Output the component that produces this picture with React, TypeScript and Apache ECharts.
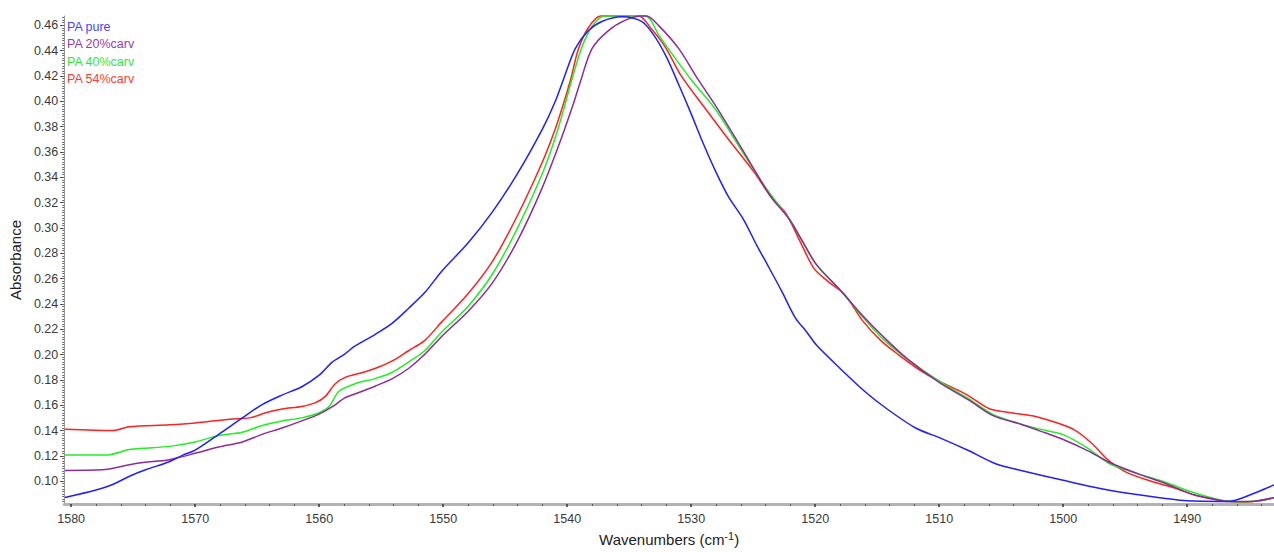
import React, { useEffect, useRef } from "react";
import * as echarts from "echarts";

const seriesNames = ["PA pure", "PA 20%carv", "PA 40%carv", "PA 54%carv"];
const lineColors = ["#1f1fff", "#8b2b9c", "#22ee22", "#ff2020"];
const textColors = ["#4545ff", "#9a3caf", "#33e633", "#ff3a3a"];

const xTickLabels = [1490, 1500, 1510, 1520, 1530, 1540, 1550, 1560, 1570, 1580];
const yTickLabels = [0.1, 0.12, 0.14, 0.16, 0.18, 0.2, 0.22, 0.24, 0.26, 0.28, 0.3, 0.32, 0.34, 0.36, 0.38, 0.4, 0.42, 0.44, 0.46];

const pureX = [1580.5, 1578, 1576.65, 1575.3, 1574, 1572.1, 1571, 1570, 1568.1, 1566.2, 1564.6, 1563, 1561.4, 1560, 1558.95, 1558, 1557.1, 1555.5, 1554.1, 1552.8, 1551.45, 1550.1, 1548, 1546, 1544, 1542, 1541, 1540.2, 1539.35, 1538.3, 1537.2, 1535.6, 1534, 1533, 1532, 1531, 1530, 1529, 1528, 1527, 1525.8, 1524.7, 1523.8, 1522.7, 1521.6, 1520.7, 1519.9, 1518.2, 1515.9, 1514.2, 1511.9, 1509.9, 1507.6, 1505.4, 1503.4, 1500, 1497.7, 1494.8, 1491.9, 1490, 1487.2, 1486.1, 1484.3, 1483];
const pureY = [0.0871, 0.093, 0.0974, 0.1039, 0.109, 0.1154, 0.1206, 0.1245, 0.137, 0.15, 0.1605, 0.168, 0.1746, 0.1837, 0.194, 0.2, 0.2068, 0.2158, 0.2248, 0.2364, 0.2493, 0.266, 0.288, 0.313, 0.343, 0.378, 0.399, 0.42, 0.4415, 0.4556, 0.463, 0.4667, 0.463, 0.452, 0.435, 0.413, 0.39, 0.366, 0.344, 0.3247, 0.307, 0.286, 0.27, 0.25, 0.229, 0.218, 0.2075, 0.191, 0.17, 0.157, 0.142, 0.134, 0.124, 0.1136, 0.1085, 0.1007, 0.0956, 0.0904, 0.0866, 0.0845, 0.084, 0.085, 0.0917, 0.097];

const c20X = [1580.5, 1577.5, 1575.3, 1574.2, 1572.1, 1570, 1568.1, 1566.2, 1564.6, 1563, 1561.4, 1560, 1558.9, 1557.9, 1556.8, 1555.5, 1554.1, 1552.8, 1551.5, 1550.1, 1548, 1546, 1544, 1542, 1540.5, 1539.5, 1538.95, 1538, 1536.7, 1535.3, 1534, 1533.6, 1532.6, 1531, 1529.5, 1528, 1526, 1523.6, 1522.1, 1521, 1519.9, 1517.9, 1516.2, 1514.5, 1512.5, 1510, 1507.6, 1505.7, 1503.4, 1501.4, 1500, 1498, 1496.3, 1494, 1491.7, 1489.7, 1487.8, 1486.6, 1484.9, 1483];
const c20Y = [0.1085, 0.109, 0.113, 0.1147, 0.117, 0.122, 0.127, 0.131, 0.137, 0.142, 0.1476, 0.153, 0.159, 0.166, 0.17, 0.175, 0.181, 0.189, 0.2, 0.2145, 0.234, 0.257, 0.29, 0.332, 0.37, 0.398, 0.415, 0.4415, 0.4556, 0.464, 0.4673, 0.4673, 0.4595, 0.4415, 0.418, 0.396, 0.364, 0.325, 0.307, 0.289, 0.271, 0.25, 0.231, 0.214, 0.196, 0.178, 0.164, 0.152, 0.145, 0.138, 0.1329, 0.124, 0.115, 0.106, 0.098, 0.09, 0.0858, 0.084, 0.084, 0.087];

const c40X = [1580.5, 1577.2, 1575.3, 1574.2, 1572.1, 1570, 1568.1, 1566.2, 1564.6, 1563, 1561.4, 1560, 1559.2, 1558.4, 1557.1, 1555.5, 1554.1, 1552.8, 1551.5, 1550.1, 1548, 1546, 1544, 1542, 1541, 1540.3, 1539.6, 1538.8, 1538, 1537, 1533.7, 1532.6, 1531.3, 1530, 1528, 1526, 1524, 1522.1, 1521, 1519.9, 1517.9, 1516.2, 1514.5, 1512.5, 1510, 1507.6, 1505.7, 1503.4, 1501.4, 1500, 1498, 1496.3, 1494, 1491.7, 1489.7, 1487.2, 1485.5, 1484, 1483];
const c40Y = [0.1206, 0.1206, 0.125, 0.126, 0.1275, 0.131, 0.136, 0.1386, 0.144, 0.1476, 0.15, 0.154, 0.159, 0.171, 0.177, 0.181, 0.186, 0.194, 0.203, 0.218, 0.238, 0.264, 0.3, 0.343, 0.37, 0.393, 0.418, 0.443, 0.459, 0.4673, 0.4673, 0.452, 0.434, 0.417, 0.393, 0.362, 0.332, 0.307, 0.289, 0.271, 0.25, 0.23, 0.212, 0.196, 0.179, 0.165, 0.153, 0.145, 0.14, 0.1368, 0.126, 0.114, 0.106, 0.099, 0.0917, 0.085, 0.0838, 0.0848, 0.087];

const c54X = [1580.5, 1576.6, 1575.3, 1572.1, 1570, 1567.2, 1565.6, 1564.3, 1563, 1561.4, 1560.3, 1559.5, 1558.7, 1557.9, 1556.8, 1555.5, 1554.1, 1552.8, 1551.5, 1550.1, 1548, 1546, 1544, 1542, 1541, 1540.3, 1539.7, 1539.1, 1538.3, 1537.3, 1534.25, 1533.2, 1532.1, 1530.8, 1529, 1527, 1525, 1523.6, 1522.4, 1521.3, 1520.1, 1519, 1517.6, 1516.2, 1514.7, 1513.3, 1511.6, 1510, 1507.9, 1507.1, 1505.9, 1504.2, 1502.5, 1500.8, 1499.1, 1497.7, 1496.3, 1494.9, 1492.9, 1490.9, 1489.2, 1487.2, 1485.5, 1484.1, 1483];
const c54Y = [0.141, 0.14, 0.143, 0.1445, 0.146, 0.149, 0.15, 0.154, 0.157, 0.159, 0.162, 0.167, 0.177, 0.182, 0.185, 0.189, 0.195, 0.203, 0.211, 0.226, 0.248, 0.274, 0.31, 0.352, 0.377, 0.398, 0.418, 0.441, 0.458, 0.4673, 0.4673, 0.457, 0.443, 0.42, 0.396, 0.37, 0.345, 0.325, 0.312, 0.291, 0.268, 0.258, 0.247, 0.227, 0.211, 0.2, 0.188, 0.179, 0.169, 0.164, 0.157, 0.154, 0.1517, 0.147, 0.1406, 0.13, 0.116, 0.107, 0.1, 0.0943, 0.0884, 0.0845, 0.0835, 0.0848, 0.087];

const seriesX = [pureX, c20X, c40X, c54X];
const seriesY = [pureY, c20Y, c40Y, c54Y];

const X_MIN = 1483;
const X_MAX = 1580.56;
const Y_MIN = 0.082;
const Y_MAX = 0.4673;

export default function App() {
  const ref = useRef<HTMLDivElement>(null);
  useEffect(() => {
    if (!ref.current) return;
    const chart = echarts.init(ref.current, undefined, { renderer: "svg" });
    const xMinor: number[] = [];
    for (let v = 1484; v <= 1580; v += 2) if (v % 10 !== 0) xMinor.push(v);
    const yMinor: number[] = [];
    for (let i = 42; i <= 233; i++) yMinor.push(+(i * 0.002).toFixed(3));
    const font = "Liberation Sans, Arial, sans-serif";
    chart.setOption({
      animation: false,
      grid: { left: 62, right: 0, top: 16, bottom: 37, containLabel: false },
      xAxis: [
        {
          type: "value",
          inverse: true,
          min: X_MIN,
          max: X_MAX,
          splitLine: { show: false },
          axisLine: { show: true, onZero: false, lineStyle: { color: "#b4b4b4", width: 3 } },
          axisTick: { show: true, customValues: xTickLabels, length: 3, lineStyle: { color: "#333", width: 1.5 } },
          axisLabel: {
            customValues: xTickLabels,
            formatter: (v: number) => String(Math.round(v)),
            color: "#3a3a3a",
            fontSize: 12.5,
            fontFamily: font,
            margin: 8,
          },
          name: "{a|Wavenumbers (cm}{s|-1}{a|)}",
          nameLocation: "middle",
          nameGap: 26,
          nameTextStyle: {
            rich: {
              a: { fontSize: 15, color: "#222", fontFamily: font },
              s: { fontSize: 11, color: "#222", fontFamily: font, verticalAlign: "top", padding: [0, 0, 8, 0] },
            },
          },
        },
        {
          type: "value",
          inverse: true,
          min: X_MIN,
          max: X_MAX,
          position: "bottom",
          splitLine: { show: false },
          axisLine: { show: false, onZero: false },
          axisTick: { show: true, customValues: xMinor, length: 2, lineStyle: { color: "#555" } },
          axisLabel: { show: false },
        },
      ],
      yAxis: [
        {
          type: "value",
          min: Y_MIN,
          max: Y_MAX,
          splitLine: { show: false },
          axisLine: { show: true, onZero: false, lineStyle: { color: "#9a9a9a", width: 1 } },
          axisTick: { show: true, customValues: yTickLabels, length: 4, lineStyle: { color: "#333" } },
          axisLabel: {
            customValues: yTickLabels,
            formatter: (v: number) => v.toFixed(2),
            color: "#3a3a3a",
            fontSize: 12.5,
            fontFamily: font,
            margin: 6,
          },
          name: "Absorbance",
          nameLocation: "middle",
          nameGap: 41,
          nameTextStyle: { fontSize: 15, color: "#222", fontFamily: font },
        },
        {
          type: "value",
          min: Y_MIN,
          max: Y_MAX,
          position: "left",
          splitLine: { show: false },
          axisLine: { show: false, onZero: false },
          axisTick: { show: true, customValues: yMinor, length: 2, lineStyle: { color: "#666" } },
          axisLabel: { show: false },
        },
      ],
      series: seriesNames.map((name, i) => ({
        name,
        type: "line",
        xAxisIndex: 0,
        yAxisIndex: 0,
        data: seriesX[i].map((x, j) => [x, seriesY[i][j]]),
        showSymbol: false,
        smooth: 0.3,
        clip: false,
        lineStyle: { color: lineColors[i], width: 1.5 },
        z: 10 - i,
      })),
      graphic: seriesNames.map((name, i) => ({
        type: "text",
        left: 67,
        top: 20 + i * 17.5,
        style: { text: name, fill: textColors[i], fontSize: 12.5, fontFamily: font },
      })),
    });
    return () => chart.dispose();
  }, []);
  return <div ref={ref} style={{ position: "fixed", left: 0, top: 0, width: 1274, height: 552, background: "#fff" }} />;
}
